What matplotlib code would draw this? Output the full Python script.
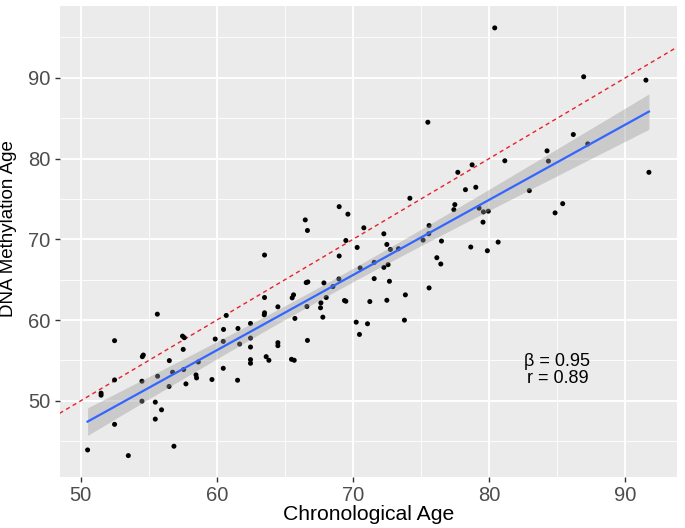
import matplotlib
matplotlib.use("Agg")

import matplotlib.pyplot as plt
from matplotlib.ticker import MultipleLocator
import numpy as np

# chronological age vs DNA methylation age
chrono_age = [
    55.63, 52.49, 57.48, 57.61, 57.53, 54.60, 54.53, 56.51, 52.49, 54.50,
    55.65, 56.75, 57.56, 58.47, 58.51, 57.73, 56.49, 58.64, 51.50, 51.50,
    54.50, 55.48, 55.94, 55.48, 52.49, 50.51, 56.85, 53.50,
    68.98, 69.62, 66.49, 66.65, 69.47, 70.30, 63.50, 68.98, 66.56, 66.68,
    67.86, 68.52, 68.96, 65.63, 65.53, 68.03, 63.50, 67.64, 69.37, 69.47,
    64.48, 66.61, 67.61, 63.50, 63.48, 60.69, 67.78, 65.73, 62.47, 70.23,
    60.49, 61.55, 70.47, 59.88, 62.47, 60.47, 66.65, 61.67, 64.48, 64.48,
    62.47, 63.62, 63.82, 62.47, 62.47, 65.48, 65.68, 60.47, 59.64, 61.52,
    75.49, 81.14, 78.74, 77.69, 78.25, 79.01, 74.17, 77.47, 77.40, 79.25,
    79.57, 79.93, 79.54, 70.79, 75.58, 72.26, 75.56, 75.14, 76.49, 72.48,
    72.74, 73.33, 78.64, 80.65, 79.86, 76.15, 76.44, 71.55, 70.52, 72.26,
    72.57, 71.55, 72.67, 75.58, 73.84, 71.23, 72.48, 71.06, 73.77,
    80.40, 86.93, 91.50, 86.17, 87.23, 84.24, 84.34, 91.72, 82.94, 85.39,
    84.83,
]
methyl_age = [
    60.73, 57.45, 58.01, 57.82, 56.37, 55.67, 55.47, 54.98, 52.59, 52.43,
    53.05, 53.54, 53.87, 53.21, 52.84, 52.10, 51.78, 54.81, 50.95, 50.70,
    49.96, 49.84, 48.89, 47.74, 47.09, 43.92, 44.38, 43.22,
    74.04, 73.11, 72.40, 71.09, 69.85, 68.99, 68.05, 67.93, 64.64, 64.72,
    64.60, 64.14, 65.09, 63.12, 62.75, 62.79, 62.79, 62.13, 62.42, 62.33,
    61.64, 61.68, 61.52, 60.90, 60.65, 60.57, 60.36, 60.20, 59.58, 59.74,
    58.84, 58.96, 58.22, 57.65, 57.77, 57.36, 57.48, 57.03, 57.20, 56.83,
    56.66, 55.47, 55.02, 55.10, 54.65, 55.14, 55.02, 54.03, 52.64, 52.55,
    84.49, 79.72, 79.22, 78.29, 76.14, 76.44, 75.08, 74.29, 73.67, 73.85,
    73.39, 73.48, 72.12, 71.42, 71.70, 70.68, 70.68, 69.90, 69.78, 69.36,
    68.74, 68.83, 69.04, 69.65, 68.58, 67.72, 66.94, 67.14, 66.45, 66.52,
    66.86, 65.13, 64.80, 63.98, 63.12, 62.29, 62.45, 59.54, 59.99,
    96.17, 90.12, 89.70, 82.97, 81.81, 80.95, 79.68, 78.29, 76.02, 74.41,
    73.27,
]

stats_text = "β = 0.95\nr = 0.89"
x_label = "Chronological Age"
y_label = "DNA Methylation Age"

x = np.array(chrono_age)
y = np.array(methyl_age)

# linear fit with 95% confidence band, like geom_smooth(method = "lm")
n = len(x)
slope, intercept = np.polyfit(x, y, 1)
resid = y - (intercept + slope * x)
s = np.sqrt(np.sum(resid ** 2) / (n - 2))
x_mean = x.mean()
sxx = np.sum((x - x_mean) ** 2)
t_crit = 1.979
xs = np.linspace(x.min(), x.max(), 100)
ys = intercept + slope * xs
se = s * np.sqrt(1.0 / n + (xs - x_mean) ** 2 / sxx)

plt.rcParams["font.family"] = ["Liberation Sans", "DejaVu Sans"]

fig = plt.figure(figsize=(6.85, 5.28), dpi=100)
ax = fig.add_axes([0.0869, 0.0966, 0.9014, 0.8911])
ax.set_facecolor("#EBEBEB")

# ggplot-style expanded limits
x_pad = 0.05 * (x.max() - x.min())
y_pad = 0.05 * (y.max() - y.min())
ax.set_xlim(x.min() - x_pad, x.max() + x_pad)
ax.set_ylim(y.min() - y_pad, y.max() + y_pad)

ax.xaxis.set_major_locator(MultipleLocator(10))
ax.yaxis.set_major_locator(MultipleLocator(10))
ax.xaxis.set_minor_locator(MultipleLocator(5))
ax.yaxis.set_minor_locator(MultipleLocator(5))
ax.grid(which="major", color="white", linewidth=1.3)
ax.grid(which="minor", color="white", linewidth=0.6)
ax.set_axisbelow(True)
for sp in ax.spines.values():
    sp.set_visible(False)

ax.tick_params(which="major", length=3.5, width=1.0, color="#333333",
               labelsize=14.5, labelcolor="#4D4D4D", pad=3)
ax.tick_params(which="minor", length=0)

# identity line
ax.axline((50, 50), slope=1, color="#E8202A", linestyle=(0, (3, 2.5)),
          linewidth=1.0, zorder=2)

ax.scatter(x, y, s=13, color="black", edgecolors="none", zorder=3)

ax.fill_between(xs, ys - t_crit * se, ys + t_crit * se, color="#999999",
                alpha=0.4, linewidth=0, zorder=4)
ax.plot(xs, ys, color="#3366FF", linewidth=1.6, zorder=5)

ax.text(85, 53.8, stats_text, ha="center", va="center", fontsize=13,
        linespacing=0.95, color="black", zorder=6)

ax.set_xlabel(x_label, fontsize=15.2, labelpad=0)
ax.set_ylabel(y_label, fontsize=13.5)
ax.yaxis.set_label_coords(-0.069, 0.529)

fig.savefig("out.png", dpi=100)
